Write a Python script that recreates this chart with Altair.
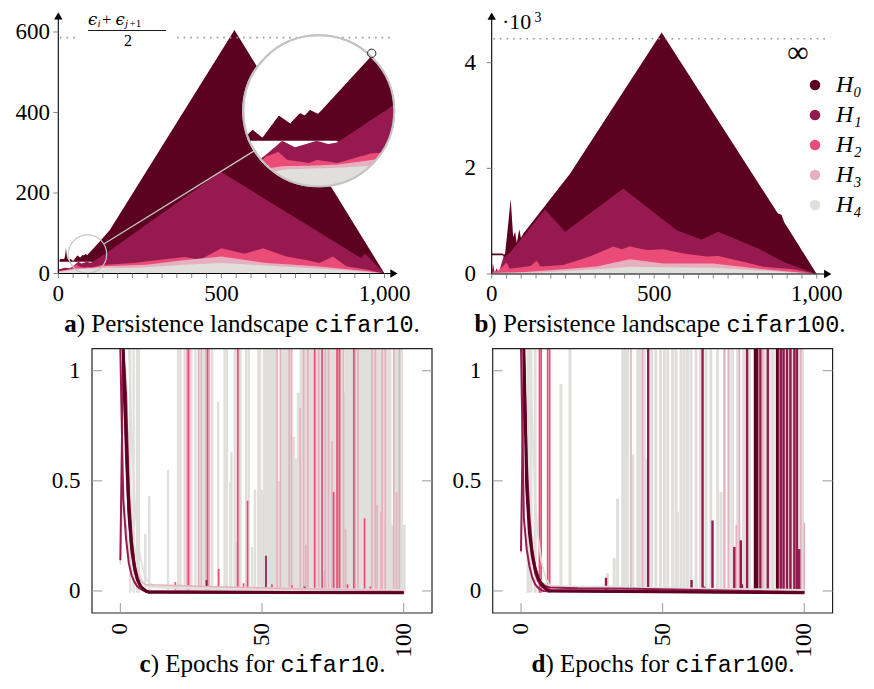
import altair as alt
import numpy as np
import pandas as pd

# ---------------------------------------------------------------- data
SERIES = ["H₀", "H₁", "H₂", "H₃", "H₄"]
COLORS = ["#5c0120", "#961a4f", "#ea4c77", "#e6b0c0", "#e0dfdb"]
COL = dict(zip(SERIES, COLORS))

# panel a: persistence landscape cifar10
A_H0_X = [3, 5, 18, 21, 23.5, 26, 30, 34, 38, 45.6, 58.4, 67.3, 74.9, 78.7, 82.6, 89, 104, 128.4, 158, 540, 1000]
A_H0_TOP = [29, 36, 36, 45, 64, 45, 34, 33, 36, 31, 45, 40, 46.6, 45, 48.6, 46, 59.2, 80.7, 108, 605, 0]
A_H0_BOT = [29, 29, 29, 29, 29, 29, 29, 29, 29, 29, 29, 29, 29, 29, 29, 29, 29, 0, 0, 0, 0]
A_H1_X = [0, 20, 36, 48, 61, 71, 88, 97, 104, 145, 498, 929, 940, 1000]
A_H1_TOP = [10, 14, 13, 20, 29, 25, 29, 27, 28, 50, 253, 38, 50, 0]
A_H2_X = [0, 20, 40, 48, 58, 65, 82, 88, 104, 117, 130, 145, 230, 332, 388, 434, 500, 571, 628, 699, 755, 801, 842, 883, 944, 1000]
A_H2_TOP = [7, 9, 12, 19, 22, 17, 15, 17, 15, 18, 21, 22, 26, 36, 41, 34, 63, 49, 63, 42, 34, 26, 42, 18, 10, 0]
A_H3_X = [0, 61, 82, 104, 123, 140, 270, 383, 500, 638, 791, 944, 1000]
A_H3_TOP = [5, 13, 13.3, 14, 16, 18, 22, 33, 42, 26, 18, 6, 0]
A_H4_X = [0, 65, 104, 145, 250, 383, 500, 638, 842, 1000]
A_H4_TOP = [3, 11, 12, 14, 14, 22, 26, 20, 10, 0]

# panel b: persistence landscape cifar100
B_H0_X = [0, 33, 36, 41, 50, 58.5, 66, 72, 77, 85, 90, 97, 241, 523, 880, 892, 900, 1000]
B_H0_TOP = [390, 390, 370, 380, 900, 1420, 700, 800, 580, 846, 680, 760, 1900, 4570, 1150, 1115, 980, 0]
B_H0_BOT = [355, 355, 340, 0, 0, 0, 0, 0, 0, 0, 0, 0, 0, 0, 0, 0, 0, 0]
B_H1_X = [0, 4, 9, 15, 22, 35, 45, 56, 67, 164, 226, 405, 569, 646, 697, 820, 897, 938, 1000]
B_H1_TOP = [0, 210, 20, 110, 30, 300, 350, 400, 485, 1220, 800, 1620, 830, 655, 800, 485, 233, 139, 0]
B_H2_X = [0, 20, 35, 46, 55, 80, 120, 138, 150, 220, 302, 374, 400, 425, 477, 528, 590, 661, 697, 774, 836, 928, 1000]
B_H2_TOP = [40, 60, 150, 220, 100, 120, 150, 250, 140, 170, 330, 520, 470, 520, 455, 470, 390, 330, 340, 233, 139, 88, 0]
B_H3_X = [0, 100, 220, 323, 425, 528, 682, 836, 1000]
B_H3_TOP = [20, 40, 90, 140, 277, 200, 200, 90, 0]
B_H4_X = [0, 150, 323, 425, 528, 682, 836, 1000]
B_H4_TOP = [10, 30, 88, 139, 126, 120, 63, 0]

X_TICK_LABELS = ["0", "500", "1,000"]
X_TICK_VALUES = [0, 500, 1000]
MINOR_TICKS = [round(i * 1000 / 22, 3) for i in range(23)]
A_Y_TICKS = [0, 200, 400, 600]
A_Y_LABELS = ["0", "200", "400", "600"]
B_Y_TICKS = [0, 2000, 4000]
B_Y_LABELS = ["0", "2", "4"]
A_DOTTED = 586
B_DOTTED = 4452

# panel c / d: epochs, decay curves (series, epochs, values)
C_CURVES = [
    ("H₄", [1, 2, 3, 4, 5, 6, 7, 8, 9, 10, 15, 20, 30, 100], [1.5, 1.0, 0.6, 0.35, 0.2, 0.12, 0.07, 0.04, 0.025, 0.02, 0.015, 0.012, 0.01, 0.005]),
    ("H₄", [0, 1, 2, 3, 4, 5, 6, 7, 8, 10, 100], [0.12, 0.5, 0.3, 0.18, 0.1, 0.06, 0.035, 0.02, 0.01, 0.003, 0.0]),
    ("H₄", [2, 3, 4, 5, 6, 7, 8, 9, 10, 12, 100], [1.8, 1.1, 0.7, 0.42, 0.26, 0.16, 0.1, 0.06, 0.04, 0.02, 0.004]),
    ("H₃", [1, 2, 3, 4, 5, 6, 7, 8, 9, 10, 20, 30, 45, 60, 100], [1.4, 0.8, 0.45, 0.25, 0.14, 0.08, 0.05, 0.035, 0.03, 0.028, 0.025, 0.02, 0.016, 0.01, 0.0]),
    ("H₁", [0, 1, 2, 3, 4, 5, 6, 7, 8, 9, 100], [2.0, 0.42, 0.24, 0.125, 0.07, 0.04, 0.02, 0.01, 0.003, -0.003, -0.008]),
    ("H₁", [1, 2, 3, 4, 5, 6, 7, 8, 9, 10, 100], [1.6, 0.9, 0.45, 0.24, 0.12, 0.06, 0.03, 0.012, 0.003, -0.005, -0.007]),
    ("H₁", [0, 1, 2, 3, 4, 5, 6, 7, 8, 9, 100], [0.14, 2.5, 0.6, 0.32, 0.17, 0.09, 0.045, 0.02, 0.008, 0.0, -0.008]),
    ("H₀", [1, 2, 3, 4, 5, 6, 7, 8, 9, 10, 100], [1.8, 0.72, 0.37, 0.2, 0.11, 0.055, 0.025, 0.01, 0.0, -0.006, -0.008]),
]
D_CURVES = [
    ("H₄", [0, 1, 2, 3, 4, 5, 6, 8, 10, 20, 35, 37, 100], [0.17, 1.2, 0.5, 0.3, 0.17, 0.1, 0.06, 0.035, 0.025, 0.02, 0.02, 0.015, 0.005]),
    ("H₄", [2, 3, 4, 5, 6, 7, 8, 9, 10, 11, 100], [2.0, 1.3, 0.75, 0.42, 0.25, 0.15, 0.09, 0.05, 0.03, 0.02, 0.004]),
    ("H₁", [0, 1, 2, 3, 4, 5, 6, 7, 8, 100], [2.0, 0.33, 0.19, 0.11, 0.06, 0.03, 0.015, 0.005, 0.0, -0.008]),
    ("H₁", [1, 2, 3, 4, 5, 6, 7, 8, 9, 10, 20, 40, 100], [1.6, 0.6, 0.33, 0.19, 0.11, 0.065, 0.04, 0.028, 0.02, 0.016, 0.012, 0.01, -0.005]),
    ("H₁", [0, 1, 2, 3, 4, 5, 6, 7, 8, 9, 100], [0.18, 1.8, 0.5, 0.28, 0.15, 0.08, 0.045, 0.025, 0.012, 0.004, -0.008]),
    ("H₀", [1, 2, 3, 4, 5, 6, 7, 8, 9, 10, 100], [1.5, 0.47, 0.26, 0.16, 0.1, 0.06, 0.036, 0.02, 0.008, 0.0, -0.008]),
]

# spikes (epoch, peak value); values above 1.1 leave the frame
C_SPIKES = {
    "H₄": [(3.5, 2), (4.7, 2), (5.9, 2), (6.5, 2), (8.8, 0.26), (10.2, 0.43), (16.8, 0.55), (20.4, 2), (21.2, 2),
           (22.7, 2), (25.1, 2), (26.5, 2), (27.9, 2), (29.4, 2), (32.4, 2), (34.5, 0.86), (36.8, 2), (37.6, 2),
           (38.8, 0.49), (39.2, 0.63), (40.4, 2), (40.8, 0.22), (42.4, 2), (44.4, 2), (45.3, 2), (46.5, 0.2),
           (47.5, 0.46), (48.6, 0.46)],
    "H₃": [(23.5, 2), (24.4, 2), (27.6, 2), (28.6, 2), (30.2, 2), (31.4, 2), (41.8, 2), (55.3, 2), (56.5, 2),
           (59.6, 2), (60.4, 2), (63.5, 0.83), (64.7, 2), (65.5, 0.21), (66.2, 2), (70, 2), (72, 0.09), (72.4, 2),
           (73.5, 2), (74.7, 0.68), (77.6, 2), (78.8, 2), (79.5, 0.28), (82.9, 2), (83.9, 2), (88.8, 2), (90, 2),
           (90.6, 0.39), (92, 0.36), (92.4, 2), (93.5, 2), (96.5, 2), (97.5, 0.45), (98.5, 2)],
    "H₂": [(19.4, 0.04), (24, 2), (30.8, 2), (34.7, 0.10), (41.4, 2), (43.5, 0.035), (44.9, 0.41), (53.5, 0.03),
           (60.6, 0.025), (68.6, 2), (71.2, 2), (75.3, 0.45), (76.5, 2), (77.3, 2), (80.2, 0.03), (82.4, 2),
           (86.2, 0.33), (88.2, 0.02)],
    "H₁": [(30.4, 0.05), (51.4, 0.16), (65, 0.02)],
    "H₀": [(65.2, 0.015)],
}
C_DENSE_GRAY = [(49, 2), (50, 0.46), (51, 2), (52, 2), (53, 2), (54, 2), (55, 2), (56, 0.5), (57, 2), (58, 2),
                (59, 2), (60, 2), (61, 0.7), (62, 0.6), (63, 0.9), (64, 2), (65, 2), (66, 2), (67, 2), (68, 2),
                (69, 2), (70, 2), (71, 2), (72, 2), (73, 2), (74, 2), (75, 2), (76, 2), (77, 2), (78, 2),
                (79, 0.9), (80, 2), (81, 2), (82, 2), (83, 2), (84, 2), (85, 2), (86, 2), (87, 2), (88, 2),
                (89, 2), (90, 2), (91, 2), (92, 2), (93, 2), (94, 2), (95, 2), (96, 0.3), (97, 2), (98, 2),
                (99, 2), (100, 0.3)]
D_SPIKES = {
    "H₄": [(2.5, 2), (3.5, 2), (5, 2), (14.1, 0.94), (17.3, 2), (30.5, 0.08), (32.9, 0.15), (34.1, 0.42), (35.9, 2),
           (36.8, 2), (37.6, 2), (39.5, 0.62), (41.2, 2), (42.1, 2), (43.5, 2), (44.5, 0.6), (46.1, 2), (47.6, 2),
           (49.2, 2), (50.6, 2), (51.8, 2), (53.5, 2), (54.7, 2), (55.3, 0.36), (56.5, 2), (57.6, 2), (58.8, 2),
           (60, 2), (61.8, 2), (63.3, 2), (65.3, 2), (67, 2), (69.4, 2), (70.6, 0.45), (71.8, 2), (73.5, 2),
           (74.7, 2), (76.5, 2), (78.6, 2), (80.6, 2), (82.4, 2), (84.1, 2), (85.9, 2), (87.6, 2), (88.8, 2),
           (90, 2), (91.8, 2), (92.9, 2), (94.7, 2), (95.9, 2), (97.1, 2), (98.2, 2), (99.4, 2)],
    "H₃": [(38.8, 2), (42.9, 2), (71.8, 2), (73.2, 2), (76, 0.3), (77.1, 2), (83.5, 2), (85.3, 2), (87.1, 2),
           (91.5, 2), (95.3, 2), (98.8, 2), (100, 0.31)],
    "H₂": [(6.5, 2), (7.1, 2), (9.4, 2), (10.1, 2)],
    "H₁": [(30, 0.06), (44.9, 2), (60.2, 0.05), (64.1, 2), (64.7, 0.02), (67.6, 0.32), (75.3, 0.2), (77.6, 0.23),
           (78, 0.03), (79.8, 2), (82.9, 2), (84.5, 2), (87.1, 2), (90.8, 2), (91.8, 2), (92.7, 2), (93.9, 2),
           (95.1, 2), (96.5, 2), (97.4, 2), (98.2, 0.19)],
    "H₀": [(82.6, 2), (83.4, 2), (90.4, 2)],
}
E_TICKS = [0, 50, 100]
E_LABELS = ["0", "50", "100"]
L_TICKS = [0, 0.5, 1]
L_LABELS = ["0", "0.5", "1"]

# ---------------------------------------------------------------- layout
W, H = 858, 672
SERIF = "Liberation Serif"
MONO = "Liberation Mono"
PA = dict(x=([0, 1000], [50.3, 376.5]), y=([0, 600], [265.5, 24.0]))
PB = dict(x=([0, 1000], [483.7, 808.7]), y=([0, 4000], [266.0, 54.7]))
PC = dict(x=([-10, 110], [84.0, 424.0]), y=([-0.1, 1.1], [605.0, 340.7]))
PD = dict(x=([-10, 110], [484.7, 824.6]), y=([-0.1, 1.1], [605.0, 340.7]))
ONE = pd.DataFrame({"k": [0]})


def X(field, P, clamp=False):
    return alt.X(f"{field}:Q", scale=alt.Scale(domain=P["x"][0], range=P["x"][1], nice=False, zero=False, clamp=clamp), axis=None)


def Y(field, P, clamp=False):
    return alt.Y(f"{field}:Q", scale=alt.Scale(domain=P["y"][0], range=P["y"][1], nice=False, zero=False, clamp=clamp), axis=None)


def txt(s, x, y, size, font=SERIF, align="left", baseline="alphabetic", **kw):
    return alt.Chart(ONE).mark_text(text=s, font=font, fontSize=size, align=align, baseline=baseline,
                                    color="black", **kw).encode(x=alt.value(x), y=alt.value(y))


LEG = alt.Legend(title=None, orient="none", legendX=795, legendY=65, symbolType="circle", symbolSize=110,
                 symbolStrokeWidth=0, symbolOpacity=1, labelFont=SERIF, labelFontStyle="italic", labelFontSize=24,
                 labelColor="black", rowPadding=6, labelOffset=9, padding=0)
COLOR = alt.Color("series:N", scale=alt.Scale(domain=SERIES, range=COLORS), legend=LEG)

layers = []


def area_layers(P, items):
    for name, xs, top, bot in items:
        df = pd.DataFrame({"x": xs, "top": top, "bot": bot, "series": name})
        layers.append(alt.Chart(df).mark_area(opacity=1).encode(
            x=X("x", P), y=Y("top", P), y2=alt.Y2("bot"), color=COLOR))


def top_axes(P, x_end, y_end, axis_x_px, axis_y_px, yticks, ylabels, ylab_px):
    layers.append(alt.Chart(pd.DataFrame({"x": [0], "x2": [x_end], "y": [0]})).mark_rule(
        color="black", strokeWidth=1.1).encode(x=X("x", P), x2=alt.X2("x2"), y=Y("y", P)))
    layers.append(alt.Chart(pd.DataFrame({"x": [0], "y": [0], "y2": [y_end]})).mark_rule(
        color="black", strokeWidth=1.1).encode(x=X("x", P), y=Y("y", P), y2=alt.Y2("y2")))
    layers.append(alt.Chart(pd.DataFrame({"x": [x_end], "y": [0]})).mark_point(
        shape="triangle-right", filled=True, color="black", size=70, opacity=1).encode(x=X("x", P), y=Y("y", P)))
    layers.append(alt.Chart(pd.DataFrame({"x": [0], "y": [y_end]})).mark_point(
        shape="triangle-up", filled=True, color="black", size=70, opacity=1).encode(x=X("x", P), y=Y("y", P)))
    layers.append(alt.Chart(pd.DataFrame({"x": MINOR_TICKS})).mark_rule(color="#777777", strokeWidth=0.9).encode(
        x=X("x", P), y=alt.value(axis_y_px), y2=alt.value(axis_y_px + 4.5)))
    layers.append(alt.Chart(pd.DataFrame({"x": X_TICK_VALUES, "t": X_TICK_LABELS})).mark_text(
        font=SERIF, fontSize=23, align="center", baseline="middle", color="black").encode(
        x=X("x", P), y=alt.value(285.5), text="t:N"))
    layers.append(alt.Chart(pd.DataFrame({"y": yticks})).mark_rule(color="#777777", strokeWidth=0.9).encode(
        y=Y("y", P), x=alt.value(axis_x_px - 5), x2=alt.value(axis_x_px)))
    layers.append(alt.Chart(pd.DataFrame({"y": yticks, "t": ylabels})).mark_text(
        font=SERIF, fontSize=23, align="right", baseline="middle", color="black").encode(
        y=Y("y", P), x=alt.value(ylab_px), text="t:N"))


# ---------------- panel a
A_ITEMS = [("H₀", A_H0_X, A_H0_TOP, A_H0_BOT),
           ("H₁", A_H1_X, A_H1_TOP, [0] * len(A_H1_X)),
           ("H₂", A_H2_X, A_H2_TOP, [0] * len(A_H2_X)),
           ("H₃", A_H3_X, A_H3_TOP, [0] * len(A_H3_X)),
           ("H₄", A_H4_X, A_H4_TOP, [0] * len(A_H4_X))]
area_layers(PA, A_ITEMS)

# dotted reference line (interrupted by the fraction label)
for x0, x1 in [(5, 52), (364, 1029)]:
    layers.append(alt.Chart(pd.DataFrame({"x": [x0], "x2": [x1], "y": [A_DOTTED]})).mark_rule(
        color="#999999", strokeWidth=1.6, strokeDash=[1.6, 5]).encode(x=X("x", PA), x2=alt.X2("x2"), y=Y("y", PA)))

# spy / magnifier inset
SX = (PA["x"][1][1] - PA["x"][1][0]) / 1000.0
SY = (PA["y"][1][0] - PA["y"][1][1]) / 600.0
SRC = (89.5, 48.0)
DST = (798.3, 404.2)
MAG = 3.93
R_BIG = 75.5
R_SMALL = R_BIG / MAG

dxp = (DST[0] - SRC[0]) * SX
dyp = (DST[1] - SRC[1]) * SY
L = float(np.hypot(dxp, dyp))
ux, uy = dxp / L / SX, dyp / L / SY
conn = pd.DataFrame({"x": [SRC[0] + R_SMALL * ux], "y": [SRC[1] + R_SMALL * uy],
                     "x2": [DST[0] - R_BIG * ux], "y2": [DST[1] - R_BIG * uy]})
layers.append(alt.Chart(conn).mark_rule(color="#c4c4c4", strokeWidth=1.3).encode(
    x=X("x", PA), y=Y("y", PA), x2=alt.X2("x2"), y2=alt.Y2("y2")))
layers.append(alt.Chart(pd.DataFrame({"x": [SRC[0]], "y": [SRC[1]]})).mark_point(
    shape="circle", filled=False, color="#c4c4c4", strokeWidth=1.2, size=(2 * R_SMALL) ** 2, opacity=1).encode(
    x=X("x", PA), y=Y("y", PA)))
layers.append(alt.Chart(pd.DataFrame({"x": [DST[0]], "y": [DST[1]]})).mark_point(
    shape="circle", fill="white", fillOpacity=1, stroke="#c4c4c4", strokeWidth=2, size=(2 * R_BIG) ** 2,
    opacity=1).encode(x=X("x", PA), y=Y("y", PA)))

half_w = R_SMALL / SX
u = np.linspace(SRC[0] - half_w, SRC[0] + half_w, 181)
hs = np.sqrt(np.maximum(R_SMALL ** 2 - ((u - SRC[0]) * SX) ** 2, 0)) / SY
for name, xs, top, bot in A_ITEMS:
    t = np.interp(u, xs, top)
    b = np.interp(u, xs, bot)
    t2 = np.minimum(t, SRC[1] + hs)
    b2 = np.maximum(b, SRC[1] - hs)
    t2 = np.maximum(t2, b2)
    df = pd.DataFrame({"x": DST[0] + MAG * (u - SRC[0]), "top": DST[1] + MAG * (t2 - SRC[1]),
                       "bot": DST[1] + MAG * (b2 - SRC[1])})
    layers.append(alt.Chart(df).mark_area(color=COL[name], opacity=1).encode(
        x=X("x", PA), y=Y("top", PA), y2=alt.Y2("bot")))
layers.append(alt.Chart(pd.DataFrame({"x": [DST[0]], "y": [DST[1]]})).mark_point(
    shape="circle", filled=False, color="#c4c4c4", strokeWidth=2, size=(2 * R_BIG) ** 2, opacity=1).encode(
    x=X("x", PA), y=Y("y", PA)))
layers.append(alt.Chart(pd.DataFrame({"x": [960.8], "y": [547]})).mark_point(
    shape="circle", filled=False, color="#222222", strokeWidth=1, size=70, opacity=1).encode(
    x=X("x", PA), y=Y("y", PA)))

top_axes(PA, 1029, 640, 50.3, 265.5, A_Y_TICKS, A_Y_LABELS, 42)

# fraction label
layers += [
    txt("ϵ", 80, 16.5, 16.5, font="DejaVu Serif", fontStyle="italic"),
    txt("i", 89.5, 19, 11, fontStyle="italic"),
    txt("+", 94, 16.5, 16.5),
    txt("ϵ", 107.5, 16.5, 16.5, font="DejaVu Serif", fontStyle="italic"),
    txt("j", 117, 19, 11, fontStyle="italic"),
    txt("+1", 121.5, 19, 11),
    txt("2", 120, 38, 16, align="center"),
]
layers.append(alt.Chart(ONE).mark_rule(color="black", strokeWidth=0.9).encode(
    x=alt.value(80), x2=alt.value(158), y=alt.value(22.5)))

# ---------------- panel b
B_ITEMS = [("H₀", B_H0_X, B_H0_TOP, B_H0_BOT),
           ("H₁", B_H1_X, B_H1_TOP, [0] * len(B_H1_X)),
           ("H₂", B_H2_X, B_H2_TOP, [0] * len(B_H2_X)),
           ("H₃", B_H3_X, B_H3_TOP, [0] * len(B_H3_X)),
           ("H₄", B_H4_X, B_H4_TOP, [0] * len(B_H4_X))]
area_layers(PB, B_ITEMS)
layers.append(alt.Chart(pd.DataFrame({"x": [5], "x2": [1040], "y": [B_DOTTED]})).mark_rule(
    color="#999999", strokeWidth=1.6, strokeDash=[1.6, 5]).encode(x=X("x", PB), x2=alt.X2("x2"), y=Y("y", PB)))
top_axes(PB, 1034, 4880, 483.7, 266.0, B_Y_TICKS, B_Y_LABELS, 468)
layers += [txt("·10", 494, 21, 22), txt("3", 526.5, 14, 14),
           txt("∞", 790, 45, 30, align="center", baseline="middle")]


# ---------------- panels c, d
def epoch_panel(P, curves, spikes, dense, h1w, grayw):
    if dense:
        df = pd.DataFrame(dense, columns=["e", "h"]).assign(b=-0.008)
        layers.append(alt.Chart(df).mark_rule(color=COL["H₄"], strokeWidth=4).encode(
            x=X("e", P), y=Y("b", P, clamp=True), y2=alt.Y2("h")))
    widths = {"H₄": grayw, "H₃": 1.7, "H₂": 1.7, "H₁": h1w, "H₀": 2.2}
    for name in ["H₄", "H₃", "H₂", "H₁", "H₀"]:
        if name in spikes:
            df = pd.DataFrame(spikes[name], columns=["e", "h"]).assign(b=-0.008)
            layers.append(alt.Chart(df).mark_rule(color=COL[name], strokeWidth=widths[name]).encode(
                x=X("e", P), y=Y("b", P, clamp=True), y2=alt.Y2("h")))
    lw = {"H₄": 1.8, "H₃": 1.5, "H₂": 1.6, "H₁": 2.0, "H₀": 3.0}
    for i, (name, es, vs) in enumerate(curves):
        df = pd.DataFrame({"e": es, "v": vs})
        layers.append(alt.Chart(df).mark_line(color=COL[name], strokeWidth=lw[name]).encode(
            x=X("e", P), y=Y("v", P, clamp=True)))
    x0, x1 = P["x"][1]
    y1, y0 = P["y"][1]
    layers.append(alt.Chart(ONE).mark_rect(fillOpacity=0, stroke="#222222", strokeWidth=1.2).encode(
        x=alt.value(x0), x2=alt.value(x1), y=alt.value(y0), y2=alt.value(y1)))
    tdf = pd.DataFrame({"y": L_TICKS})
    layers.append(alt.Chart(tdf).mark_rule(color="#9a9a9a", strokeWidth=1).encode(
        y=Y("y", P), x=alt.value(x0), x2=alt.value(x0 + 10)))
    layers.append(alt.Chart(tdf).mark_rule(color="#9a9a9a", strokeWidth=1).encode(
        y=Y("y", P), x=alt.value(x1 - 10), x2=alt.value(x1)))
    layers.append(alt.Chart(pd.DataFrame({"x": E_TICKS})).mark_rule(color="#9a9a9a", strokeWidth=1).encode(
        x=X("x", P), y=alt.value(y1 - 10), y2=alt.value(y1)))
    layers.append(alt.Chart(pd.DataFrame({"y": L_TICKS, "t": L_LABELS})).mark_text(
        font=SERIF, fontSize=23, align="right", baseline="middle", color="black").encode(
        y=Y("y", P), x=alt.value(x0 - 11.5), text="t:N"))
    layers.append(alt.Chart(pd.DataFrame({"x": E_TICKS, "t": E_LABELS})).mark_text(
        font=SERIF, fontSize=23, align="right", baseline="middle", angle=270, color="black").encode(
        x=X("x", P), y=alt.value(y1 + 10), text="t:N"))


epoch_panel(PC, C_CURVES, C_SPIKES, C_DENSE_GRAY, 1.7, 2.4)
epoch_panel(PD, D_CURVES, D_SPIKES, None, 2.4, 3.0)

# ---------------- captions
TW = {")": 333, " ": 250, "P": 556, "e": 444, "r": 333, "s": 389, "i": 278, "t": 278, "n": 500, "c": 444,
      "l": 278, "a": 444, "d": 500, "p": 500, "E": 611, "o": 500, "h": 500, "f": 333}
BOLDW = {"a": 500, "b": 556, "c": 444, "d": 556}


def caption(letter, middle, mono, cx, base, fs=25, ms=23.5):
    w1 = BOLDW[letter] / 1000 * fs
    w2 = sum(TW[c] for c in middle) / 1000 * fs
    w3 = 0.6 * ms * len(mono)
    w4 = 0.25 * fs
    x0 = cx - (w1 + w2 + w3 + w4) / 2
    return [txt(letter, x0, base, fs, fontWeight="bold"),
            txt(middle.strip(), x0 + w1, base, fs),
            txt(mono, x0 + w1 + w2, base, ms, font=MONO),
            txt(".", x0 + w1 + w2 + w3, base, fs)]


layers += caption("a", ") Persistence landscape ", "cifar10", 234, 324)
layers += caption("b", ") Persistence landscape ", "cifar100", 652, 324)
layers += caption("c", ") Epochs for ", "cifar10", 254.5, 664)
layers += caption("d", ") Epochs for ", "cifar100", 655, 664)

chart = alt.layer(*layers).resolve_scale(x="independent", y="independent").properties(
    width=W, height=H, padding=0, autosize=alt.AutoSizeParams(type="none"), background="white"
).configure_view(stroke=None)

chart.save("out.html", embed_options={"renderer": "svg", "actions": False})
